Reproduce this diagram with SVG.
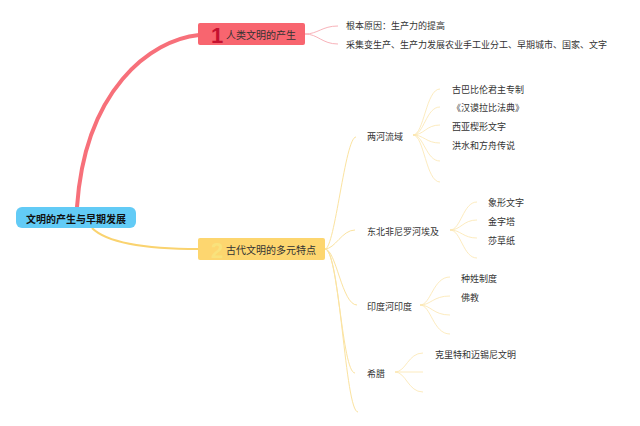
<svg xmlns="http://www.w3.org/2000/svg" width="640" height="426" viewBox="0 0 640 426">
<style>
text{font-family:"Noto Sans CJK SC","Noto Sans",sans-serif;fill:#333;dominant-baseline:central}
.root{font-size:10px;font-weight:bold;fill:#111}
.topic{font-size:10px}
.sub{font-size:9px}
.leaf{font-size:9px}
.num{font-family:"Liberation Sans",sans-serif;font-size:22px;font-weight:bold}
.br{fill:none;stroke:#FBE3A0;stroke-width:1}
.lf{fill:none;stroke:#FBE6AE;stroke-width:0.8}
.pk{fill:none;stroke:#F6A9B1;stroke-width:0.9}
</style>
<rect width="640" height="426" fill="#fff"/>
<g id="connectors">
<path d="M77,207 C85,90 150,40 199,35" fill="none" stroke="#F7707A" stroke-width="4" stroke-linecap="round"/>
<path d="M92,228 C110,246 160,249 199,249" fill="none" stroke="#FAD36F" stroke-width="2"/>
<path class="pk" d="M305,34 C318,34 322,26 338,26"/>
<path class="pk" d="M305,34 C318,34 322,44 338,44"/>
<path class="br" d="M325,249 C335,249 345,137 356,137"/>
<path class="br" d="M325,249 C335,249 342,230 355,230"/>
<path class="br" d="M325,249 C336,249 342,305 357,305"/>
<path class="br" d="M325,249 C338,249 342,373 355,373"/>
<path class="br" d="M325,249 C340,249 345,412 358,412"/>
<path class="lf" d="M413,135 C424,135 426,89 440,89"/>
<path class="lf" d="M413,135 C424,135 426,107 440,107"/>
<path class="lf" d="M413,135 C424,135 426,125 440,125"/>
<path class="lf" d="M413,135 C424,135 426,143 440,143"/>
<path class="lf" d="M413,135 C424,135 426,161 440,161"/>
<path class="lf" d="M413,135 C424,135 426,182 440,182"/>
<path class="lf" d="M450,230 C461,230 463,202 477,202"/>
<path class="lf" d="M450,230 C461,230 463,220 477,220"/>
<path class="lf" d="M450,230 C461,230 463,238 477,238"/>
<path class="lf" d="M450,230 C461,230 463,258 477,258"/>
<path class="lf" d="M420,305 C431,305 433,277 450,277"/>
<path class="lf" d="M420,305 C431,305 433,296 450,296"/>
<path class="lf" d="M420,305 C431,305 433,315 450,315"/>
<path class="lf" d="M420,305 C431,305 433,334 450,334"/>
<path class="lf" d="M395,372 C406,372 408,353 423,353"/>
<path class="lf" d="M395,372 L423,372"/>
<path class="lf" d="M395,372 C406,372 408,392 423,392"/>
</g>
<g id="root">
<rect x="16" y="207" width="120" height="21" rx="6" fill="#62CBF6"/>
<text class="root" x="76" y="218" text-anchor="middle">文明的产生与早期发展</text>
</g>
<g id="topic1">
<rect x="198" y="23" width="107" height="22" rx="2" fill="#F8656F"/>
<text class="num" x="211" y="35" fill="#C8102E" style="fill:#C41230">1</text>
<text class="topic" x="226" y="34.5">人类文明的产生</text>
</g>
<g id="topic2">
<rect x="198" y="238" width="127" height="22" rx="2" fill="#FDD66F"/>
<text class="num" x="211" y="250" style="fill:#F9E27C">2</text>
<text class="topic" x="226" y="249.5">古代文明的多元特点</text>
</g>
<g id="t1-leaves">
<text class="leaf" x="346" y="25.5">根本原因：生产力的提高</text>
<text class="leaf" x="346" y="44.5">采集变生产、生产力发展农业手工业分工、早期城市、国家、文字</text>
</g>
<g id="sub-lianghe">
<text class="sub" x="367" y="136.5">两河流域</text>
<text class="leaf" x="452" y="89">古巴比伦君主专制</text>
<text class="leaf" x="452" y="107.5">《汉谟拉比法典》</text>
<text class="leaf" x="452" y="126.5">西亚楔形文字</text>
<text class="leaf" x="452" y="145.5">洪水和方舟传说</text>
</g>
<g id="sub-egypt">
<text class="sub" x="367" y="231.5">东北非尼罗河埃及</text>
<text class="leaf" x="488" y="202.5">象形文字</text>
<text class="leaf" x="488" y="221.5">金字塔</text>
<text class="leaf" x="488" y="240.5">莎草纸</text>
</g>
<g id="sub-india">
<text class="sub" x="367" y="306.5">印度河印度</text>
<text class="leaf" x="461" y="278">种姓制度</text>
<text class="leaf" x="461" y="297">佛教</text>
</g>
<g id="sub-greece">
<text class="sub" x="367" y="373">希腊</text>
<text class="leaf" x="435" y="354.5">克里特和迈锡尼文明</text>
</g>
</svg>
